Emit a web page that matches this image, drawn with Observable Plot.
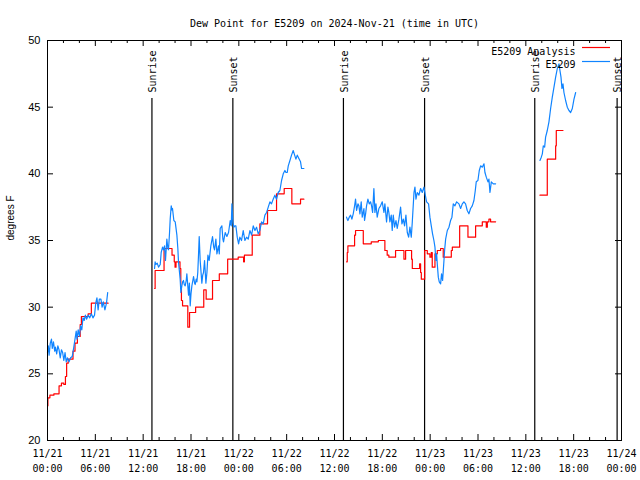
<!DOCTYPE html>
<html><head><meta charset="utf-8">
<script src="https://cdn.jsdelivr.net/npm/d3@7"></script>
<script src="https://cdn.jsdelivr.net/npm/@observablehq/plot@0.6"></script>
<style>body{margin:0;background:#fff}</style>
</head><body><div id="chart"></div>
<script>
const title = "Dew Point for E5209 on 2024-Nov-21 (time in UTC)";
const yLabel = "degrees F";
const startUTC = "2024-11-21T00:00:00Z";
const endUTC = "2024-11-24T00:00:00Z";
const xTickHours = [0, 6, 12, 18, 24, 30, 36, 42, 48, 54, 60, 66, 72];
const xTickLabels = ["11/21\n00:00","11/21\n06:00","11/21\n12:00","11/21\n18:00","11/22\n00:00","11/22\n06:00","11/22\n12:00","11/22\n18:00","11/23\n00:00","11/23\n06:00","11/23\n12:00","11/23\n18:00","11/24\n00:00"];
const xMinorHours = [2,4,8,10,14,16,20,22,26,28,32,34,38,40,44,46,50,52,56,58,62,64,68,70];
const yTicks = [20, 25, 30, 35, 40, 45, 50];
const sunHours = [13.1, 23.25, 37.12, 47.3, 61.12, 71.45];
const sunLabels = ["Sunrise", "Sunset", "Sunrise", "Sunset", "Sunrise", "Sunset"];
const seriesNames = ["E5209 Analysis", "E5209"];
const seriesColors = ["#ff0000", "#1084ff"];

// E5209 Analysis (step), [hour since 11/21 00:00 UTC, degF]
const analysisSegments = [
  [[0.0,22.6],[0.05,23.2],[0.3,23.4],[0.8,23.5],[1.45,24.1],[1.75,24.3],[2.05,24.2],[2.25,24.8],[2.4,25.8],[2.6,26.1],[3.2,26.7],[3.45,27.3],[3.75,27.8],[4.1,28.7],[4.25,29.3],[5.1,29.5],[5.5,30.3],[7.6,30.3]],
  [[13.43,31.4],[13.5,32.75],[14.62,34.4],[15.62,33.9],[15.9,33.4],[16.0,33.0],[16.12,33.4],[16.62,32.9],[16.72,31.4],[16.8,30.5],[16.94,30.1],[17.6,28.5],[17.82,29.6],[18.58,30.0],[19.6,31.3],[19.9,30.6],[20.7,32.0],[21.55,32.5],[22.6,33.6],[23.92,33.75],[24.6,33.4],[24.7,33.9],[25.68,35.4],[26.64,36.25],[27.6,37.25],[28.73,38.5],[29.69,38.9],[30.65,37.75],[31.74,38.1],[32.16,38.1]],
  [[37.51,33.4],[37.6,34.1],[37.68,34.6],[38.52,35.4],[38.64,35.75],[39.61,34.75],[40.61,34.9],[41.5,35.0],[42.32,34.25],[42.61,33.9],[42.82,33.75],[43.66,34.25],[44.71,33.6],[44.92,34.25],[45.67,33.6],[45.76,32.9],[46.68,33.25],[46.8,32.6],[46.89,32.1],[47.31,34.25],[47.64,34.0],[47.97,33.75],[48.14,34.1],[48.26,33.0],[48.6,34.0],[48.89,34.25],[49.31,34.4],[49.64,33.75],[50.65,34.25],[50.78,34.5],[51.7,36.1],[52.74,35.25],[53.7,36.1],[54.54,36.4],[55.04,36.0],[55.17,36.4],[55.37,36.6],[55.58,36.4],[56.21,36.4]],
  [[61.77,38.4],[62.69,41.1],[63.74,42.1],[63.82,43.25],[64.66,43.25]]
];

// E5209 observations, [hour since 11/21 00:00 UTC, degF]
const observedSegments = [
  [[0.0,26.6],[0.1,27.1],[0.2,26.4],[0.35,27.3],[0.5,27.6],[0.6,26.9],[0.75,27.4],[0.9,26.7],[1.0,27.0],[1.15,26.5],[1.3,27.1],[1.45,26.8],[1.6,26.2],[1.75,26.8],[1.9,26.6],[2.05,26.0],[2.2,26.6],[2.35,25.9],[2.5,26.2],[2.7,25.9],[2.9,26.2],[3.1,26.3],[3.3,27.0],[3.45,27.6],[3.6,28.2],[3.7,27.6],[3.85,28.3],[4.0,27.8],[4.15,28.6],[4.3,28.3],[4.45,29.2],[4.6,29.0],[4.75,29.4],[4.9,29.1],[5.1,29.4],[5.3,29.2],[5.5,29.5],[5.7,29.2],[5.9,29.4],[6.05,30.3],[6.2,30.7],[6.35,29.8],[6.5,30.6],[6.7,30.6],[6.85,30.0],[7.0,30.4],[7.2,29.8],[7.4,30.3],[7.55,31.1]],
  [[13.43,32.9],[13.5,33.4],[13.59,33.2],[13.76,33.3],[13.93,33.0],[14.14,33.2],[14.26,34.1],[14.43,34.5],[14.55,34.3],[14.68,34.6],[14.8,33.5],[14.97,35.1],[15.1,34.4],[15.18,34.3],[15.3,35.5],[15.39,36.6],[15.52,37.6],[15.6,37.3],[15.68,37.4],[15.85,36.5],[16.02,36.4],[16.23,35.4],[16.35,34.4],[16.43,33.4],[16.64,32.1],[16.73,31.1],[16.85,31.6],[16.95,31.9],[17.06,32.0],[17.15,31.7],[17.27,31.6],[17.4,32.0],[17.48,32.5],[17.6,31.6],[17.69,30.9],[17.8,31.8],[17.9,30.1],[18.0,31.0],[18.11,31.6],[18.32,32.3],[18.45,31.8],[18.53,31.7],[18.65,32.1],[18.74,31.9],[18.85,32.6],[18.94,33.9],[19.03,35.3],[19.15,33.5],[19.25,32.7],[19.36,31.8],[19.47,32.4],[19.57,32.6],[19.7,33.5],[19.87,31.8],[20.0,32.6],[20.12,33.9],[20.28,33.5],[20.49,34.6],[20.7,35.3],[20.85,34.5],[20.95,34.3],[21.12,35.1],[21.25,34.0],[21.45,34.6],[21.55,34.0],[21.66,35.9],[21.87,36.1],[22.0,35.1],[22.08,34.9],[22.29,35.6],[22.5,35.3],[22.71,35.6],[22.92,36.5],[23.05,36.1],[23.13,37.75],[23.25,36.4],[23.38,36.0],[23.5,36.1],[23.63,36.1],[23.8,35.25],[23.97,34.75],[24.13,35.25],[24.34,35.0],[24.55,35.75],[24.76,35.0],[24.97,35.25],[25.18,35.1],[25.39,35.75],[25.6,35.4],[25.81,36.1],[26.02,35.75],[26.22,36.0],[26.43,35.5],[26.64,35.75],[26.85,36.4],[27.06,36.25],[27.27,36.9],[27.48,37.1],[27.69,37.5],[27.9,37.9],[28.1,37.75],[28.31,38.1],[28.52,38.4],[28.73,38.1],[28.94,38.6],[29.15,38.75],[29.36,39.5],[29.57,40.0],[29.78,40.25],[29.91,40.1],[30.07,40.1],[30.2,40.6],[30.41,41.0],[30.61,41.4],[30.82,41.75],[30.95,41.5],[31.16,41.1],[31.33,41.4],[31.58,41.1],[31.74,40.9],[31.87,40.4],[32.16,40.4]],
  [[37.51,36.75],[37.6,36.6],[37.68,36.5],[37.85,36.75],[38.02,36.9],[38.18,36.6],[38.35,37.0],[38.52,37.6],[38.64,38.1],[38.77,37.25],[38.94,37.75],[39.06,37.6],[39.19,37.0],[39.35,37.9],[39.48,36.75],[39.69,37.4],[39.77,36.5],[39.9,37.0],[40.02,37.6],[40.19,38.1],[40.36,37.75],[40.53,37.9],[40.65,37.6],[40.78,37.1],[40.94,38.9],[41.07,37.1],[41.2,37.75],[41.36,36.75],[41.57,37.4],[41.78,37.6],[41.99,37.9],[42.2,37.1],[42.32,37.75],[42.53,36.4],[42.7,37.5],[42.82,37.1],[42.95,36.4],[43.12,36.9],[43.24,35.75],[43.37,36.9],[43.54,36.0],[43.71,36.5],[43.87,35.9],[44.08,36.6],[44.29,37.5],[44.46,36.25],[44.63,36.6],[44.79,36.1],[44.96,36.9],[45.13,35.6],[45.3,35.25],[45.46,36.0],[45.63,35.25],[45.76,36.4],[45.97,38.6],[46.09,39.0],[46.22,38.1],[46.38,38.6],[46.59,38.4],[46.8,38.9],[47.01,38.6],[47.22,39.0],[47.39,38.4],[47.55,37.9],[47.8,37.75],[47.97,36.75],[48.14,36.1],[48.3,35.5],[48.47,35.0],[48.6,34.5],[48.72,33.5],[48.81,34.0],[48.89,33.25],[49.02,32.25],[49.14,31.9],[49.31,31.75],[49.43,32.5],[49.56,32.0],[49.73,33.5],[49.81,34.25],[49.94,35.1],[50.15,35.75],[50.36,36.0],[50.56,36.5],[50.73,36.75],[50.9,37.75],[51.11,37.6],[51.32,37.9],[51.61,37.75],[51.82,37.4],[52.03,37.75],[52.23,37.9],[52.44,37.75],[52.65,37.25],[52.86,37.0],[53.07,37.4],[53.28,37.6],[53.49,38.0],[53.66,38.75],[53.78,39.4],[53.99,39.5],[54.16,40.25],[54.33,40.6],[54.54,40.5],[54.75,40.75],[54.87,40.1],[55.04,39.75],[55.25,39.4],[55.37,39.6],[55.5,38.6],[55.67,39.4],[55.92,39.25],[56.21,39.25]],
  [[61.77,41.0],[61.94,41.25],[62.07,41.5],[62.19,42.1],[62.36,42.0],[62.48,42.75],[62.69,43.25],[62.9,43.9],[63.11,44.9],[63.32,45.75],[63.53,46.5],[63.74,47.25],[63.95,47.9],[64.16,48.25],[64.28,47.75],[64.41,47.25],[64.53,46.4],[64.66,46.75],[64.78,46.1],[64.99,45.5],[65.2,45.0],[65.41,44.75],[65.62,44.6],[65.83,44.9],[66.04,45.6],[66.25,46.1]]
];

const t0 = Date.parse(startUTC);
const toDate = h => new Date(t0 + h * 3600e3);
const rows = segs => segs.flatMap((seg, s) => seg.map(([h, v]) => ({t: toDate(h), v, s})));
const analysisRows = rows(analysisSegments);
const observedRows = rows(observedSegments);

const W = 640, H = 480, mL = 47, mR = 19, mT = 40, mB = 40;
const fw = W - mL - mR, fh = H - mT - mB;
const mono = "DejaVu Sans Mono";

const chart = Plot.plot({
  width: W, height: H,
  marginLeft: mL, marginRight: mR, marginTop: mT, marginBottom: mB,
  style: {fontFamily: mono, fontSize: "10px", background: "#fff", color: "#000"},
  x: {type: "utc", domain: [new Date(startUTC), new Date(endUTC)], axis: null},
  y: {domain: [20, 50], axis: null},
  marks: [
    // ticks, inward on all sides
    Plot.tickX(xTickHours, {x: toDate, insetTop: fh - 6, stroke: "#000"}),
    Plot.tickX(xTickHours, {x: toDate, insetBottom: fh - 6, stroke: "#000"}),
    Plot.tickX(xMinorHours, {x: toDate, insetTop: fh - 3, stroke: "#000"}),
    Plot.tickX(xMinorHours, {x: toDate, insetBottom: fh - 3, stroke: "#000"}),
    Plot.tickY(yTicks, {y: d => d, insetRight: fw - 6, stroke: "#000"}),
    Plot.tickY(yTicks, {y: d => d, insetLeft: fw - 6, stroke: "#000"}),
    // sunrise / sunset
    Plot.ruleX(sunHours, {x: toDate, insetTop: 58, stroke: "#000", strokeWidth: 1.2}),
    Plot.text(sunHours, {x: toDate, text: (d, i) => sunLabels[i], frameAnchor: "top", dx: -3, dy: 52, rotate: -90, textAnchor: "start", fill: "#000"}),
    // series
    Plot.line(analysisRows, {x: "t", y: "v", z: "s", curve: "step-after", stroke: seriesColors[0], strokeWidth: 1.2}),
    Plot.line(observedRows, {x: "t", y: "v", z: "s", stroke: seriesColors[1], strokeWidth: 1.2}),
    // legend
    Plot.text([seriesNames[0]], {frameAnchor: "top-right", dx: -46, dy: 7, textAnchor: "end", fill: "#000"}),
    Plot.text([seriesNames[1]], {frameAnchor: "top-right", dx: -46, dy: 20, textAnchor: "end", fill: "#000"}),
    Plot.ruleY([50], {insetLeft: fw - 39, insetRight: 11, dy: 7, stroke: seriesColors[0], strokeWidth: 1.2}),
    Plot.ruleY([50], {insetLeft: fw - 39, insetRight: 11, dy: 21, stroke: seriesColors[1], strokeWidth: 1.2}),
    // axes labels
    Plot.text(xTickHours, {x: toDate, text: (d, i) => xTickLabels[i], frameAnchor: "bottom", lineAnchor: "top", dy: 6, lineHeight: 1.5, fill: "#000"}),
    Plot.text(yTicks, {y: d => d, text: d => String(d), frameAnchor: "left", dx: -7, textAnchor: "end", fontFamily: "Liberation Sans", fontSize: 11, fill: "#000"}),
    Plot.text([yLabel], {frameAnchor: "left", dx: -37, rotate: -90, fontFamily: "Liberation Sans", fontSize: 10, fill: "#000"}),
    Plot.text([title], {frameAnchor: "top", dy: -21, fill: "#000"}),
    Plot.frame({stroke: "#000"})
  ]
});
document.getElementById("chart").append(chart);
</script>
</body></html>
